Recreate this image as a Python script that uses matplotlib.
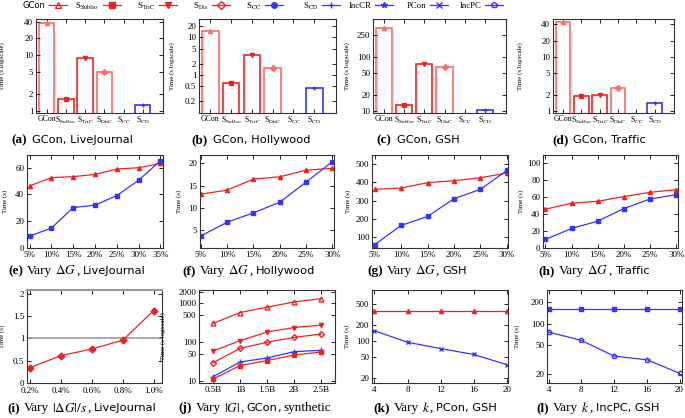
import matplotlib

matplotlib.use("Agg")
import matplotlib.pyplot as plt
from matplotlib.lines import Line2D
from matplotlib.ticker import NullLocator

plt.rcParams["font.family"] = ["Liberation Serif", "DejaVu Serif"]
plt.rcParams["mathtext.fontset"] = "stix"

RED = "#ee2222"
PINK = "#ff6a6a"
BLUE = "#3434ff"
W, H = 685, 418

# ---- data -------------------------------------------------------------
bar_cats = ["GCon", r"S$_{\mathrm{SubIso}}$", r"S$_{\mathrm{TriC}}$",
            r"S$_{\mathrm{DisC}}$", r"S$_{\mathrm{CC}}$", r"S$_{\mathrm{CD}}$"]
bar_lj = [37.8, 1.65, 8.9, 5.0, None, 1.28]
bar_hw = [14.7, 0.60, 3.33, 1.5, None, 0.46]
bar_gsh = [342, 12.7, 72, 64, None, 10.6]
bar_tr = [43.5, 1.89, 2.0, 2.66, None, 1.43]

dg_lj = [5, 10, 15, 20, 25, 30, 35]
gcon_lj = [46.4, 52.6, 53.3, 55.0, 59.0, 60.0, 63.2]
inc_lj = [8.9, 14.9, 30.2, 32.0, 39.2, 50.6, 65.2]

dg = [5, 10, 15, 20, 25, 30]
gcon_hw = [13.1, 14.0, 16.5, 17.0, 18.5, 18.9]
inc_hw = [3.7, 6.8, 8.9, 11.3, 15.8, 20.4]
gcon_gsh = [362, 369, 398, 409, 425, 451]
inc_gsh = [60, 165, 214, 311, 362, 465]
gcon_tr = [45.9, 52.9, 55.3, 60.8, 65.9, 69.0]
inc_tr = [10.2, 23.1, 31.8, 46.7, 58.0, 63.1]

rate = [0.2, 0.4, 0.6, 0.8, 1.0]
rate_time = [0.34, 0.61, 0.76, 0.955, 1.62]

size_b = [0.5, 1.0, 1.5, 2.0, 2.5]
syn_gcon = [300, 575, 790, 1080, 1315]
syn_tric = [58, 108, 180, 236, 271]
syn_disc = [29, 68, 98, 131, 160]
syn_cd = [12.6, 30.4, 38.5, 56, 61]
syn_subiso = [11, 24.5, 33, 46, 55]

ks = [4, 8, 12, 16, 20]
k_gcon = [366, 366, 366, 366, 366]
k_pcon = [155, 94.5, 72, 56, 36]
k_inccr = [161, 161, 161, 161, 161]
k_incpc = [76.5, 58.5, 35.2, 31.3, 20.3]

fig = plt.figure(figsize=(W / 100, H / 100), dpi=100)


def panel(l, r, t, b):
    ax = fig.add_axes([l / W, 1 - b / H, (r - l) / W, (b - t) / H])
    ax.tick_params(direction="in", top=True, right=True, length=3, width=0.6,
                   labelsize=6.5, pad=2)
    for s in ax.spines.values():
        s.set_linewidth(0.8)
        s.set_color("#333333")
    return ax


def ylab(ax, text, xpix, l, r):
    ax.set_ylabel(text, fontsize=5)
    ax.yaxis.set_label_coords(-(l - xpix) / (r - l), 0.5)


def log_ticks(ax, vals, labels):
    ax.set_yscale("log")
    ax.set_yticks(vals)
    ax.set_yticklabels(labels)
    ax.yaxis.set_minor_locator(NullLocator())


def caption(cx, cy, pieces):
    r = fig.canvas.get_renderer()
    objs, widths = [], []
    for s, kw, gap in pieces:
        t = fig.text(0, 1 - cy / H, s, va="center", ha="left", **kw)
        objs.append((t, gap))
        widths.append(t.get_window_extent(r).width + gap)
    x = cx - sum(widths) / 2
    for (t, gap), w in zip(objs, widths):
        t.set_x(x / W)
        x += w


bar_edges = [PINK, RED, RED, PINK, RED, BLUE]
bar_marks = ["^", "s", "v", "D", "o", "+"]


def bar_panel(l, r, vals, ylim, ticks, labels, labx):
    ax = panel(l, r, 19, 113)
    for i, v in enumerate(vals):
        if v is None:
            continue
        ax.bar(i, v, width=0.8, bottom=1e-3, facecolor="white",
               edgecolor=bar_edges[i], linewidth=1.2)
        ax.plot(i, v, marker=bar_marks[i], color=bar_edges[i], ms=3)
    log_ticks(ax, ticks, labels)
    ax.set_ylim(*ylim)
    ax.set_xlim(-0.55, 6.05)
    ax.set_xticks(range(len(bar_cats)))
    ax.set_xticklabels(bar_cats, fontsize=5.6)
    ax.tick_params(axis="x", pad=1.5)
    ylab(ax, "Time (s logscale)", labx, l, r)
    return ax


bar_panel(36, 163, bar_lj, (0.92, 44.7), [1, 2, 5, 10, 20, 40],
          ["1", "2", "5", "10", "20", "40"], 5)
bar_panel(199, 336, bar_hw, (0.098, 30.7), [0.2, 0.5, 1, 2, 5, 10, 20],
          ["0.2", "0.5", "1", "2", "5", "10", "20"], 175)
bar_panel(373, 506, bar_gsh, (9.2, 495), [10, 20, 50, 100, 250],
          ["10", "20", "50", "100", "250"], 350)
bar_panel(553, 674, bar_tr, (0.92, 50), [1, 2, 5, 10, 20, 40],
          ["1", "2", "5", "10", "20", "40"], 523)


def pct_panel(l, r, xs, red, blue, xlim, ylim, yticks, labx):
    ax = panel(l, r, 155, 248)
    ax.plot(xs, red, color=RED, lw=0.9, marker="^", ms=3)
    ax.plot(xs, blue, color=BLUE, lw=0.9, marker="s", ms=2.5)
    ax.set_xlim(*xlim)
    ax.set_ylim(*ylim)
    ax.set_xticks(xs)
    ax.set_xticklabels([f"{x}%" for x in xs])
    ax.set_yticks(yticks)
    ylab(ax, "Time (s)", labx, l, r)
    return ax


pct_panel(27, 163, dg_lj, gcon_lj, inc_lj, (4.4, 35.6), (0, 69.5),
          [0, 20, 40, 60], 8)
pct_panel(200, 334, dg, gcon_hw, inc_hw, (4.85, 30.3), (1, 21.9),
          [5, 10, 15, 20], 182)
pct_panel(372, 508, dg, gcon_gsh, inc_gsh, (4.5, 30.2), (42, 549),
          [100, 200, 300, 400, 500], 351)
pct_panel(543, 678, dg, gcon_tr, inc_tr, (4.55, 30.3), (0, 110),
          [0, 20, 40, 60, 80, 100], 524)

# (i)
ax = panel(27, 162, 290, 383)
ax.axhline(1, color="#999999", lw=1.2)
ax.plot(rate, rate_time, color=RED, lw=0.9, marker="D", ms=3.5)
ax.set_xlim(0.183, 1.054)
ax.set_ylim(0, 2.08)
ax.set_xticks(rate)
ax.set_xticklabels([f"{x:.1f}%" for x in rate])
ax.set_yticks([0, 0.5, 1, 1.5, 2])
ax.set_yticklabels(["0", "0.5", "1", "1.5", "2"])
ax.tick_params(axis="x", pad=3)
ax.spines["top"].set_color("#999999")
ax.spines["top"].set_linewidth(1.5)
ylab(ax, "Time (s)", 5, 27, 162)

# (j)
ax = panel(199, 335, 290, 383)
ax.plot(size_b, syn_gcon, color=RED, lw=0.9, marker="^", ms=3.5, mfc="none")
ax.plot(size_b, syn_tric, color=RED, lw=0.9, marker="v", ms=3)
ax.plot(size_b, syn_disc, color=RED, lw=0.9, marker="D", ms=3, mfc="none")
ax.plot(size_b, syn_cd, color=BLUE, lw=0.9, marker="+", ms=4)
ax.plot(size_b, syn_subiso, color=RED, lw=0.9, marker="s", ms=3)
log_ticks(ax, [10, 50, 100, 500, 1000, 2000],
          ["10", "50", "100", "500", "1000", "2000"])
ax.set_ylim(8.7, 2200)
ax.set_xlim(0.24, 2.76)
ax.set_xticks(size_b)
ax.set_xticklabels(["0.5B", "1B", "1.5B", "2B", "2.5B"])
ylab(ax, "Time (s logscale)", 166, 199, 335)

# (k)
ax = panel(372, 508, 290, 383)
ax.plot(ks, k_gcon, color=RED, lw=0.9, marker="^", ms=3)
ax.plot(ks, k_pcon, color=BLUE, lw=0.9, marker="x", ms=3.5)
log_ticks(ax, [20, 50, 100, 200, 500], ["20", "50", "100", "200", "500"])
ax.set_ylim(16.4, 895)
ax.set_xlim(3.7, 20.15)
ax.set_xticks(ks)
ylab(ax, "Time (s)", 350, 372, 508)

# (l)
ax = panel(547, 682, 290, 383)
ax.plot(ks, k_inccr, color=BLUE, lw=0.9, marker="s", ms=2.5)
ax.plot(ks, k_incpc, color=BLUE, lw=0.9, marker="p", ms=3.5, mfc="none")
log_ticks(ax, [20, 50, 100, 200], ["20", "50", "100", "200"])
ax.set_ylim(14.8, 297)
ax.set_xlim(3.8, 20.3)
ax.set_xticks(ks)
ylab(ax, "Time (s)", 520, 547, 682)

# ---- top legend -------------------------------------------------------
leg_labels = ["GCon", r"S$_{\mathrm{SubIso}}$", r"S$_{\mathrm{TriC}}$",
              r"S$_{\mathrm{Dis}}$", r"S$_{\mathrm{CC}}$", r"S$_{\mathrm{CD}}$",
              "IncCR", "PCon", "IncPC"]
leg_style = [(RED, "^", "none"), (RED, "s", RED), (RED, "v", RED),
             (RED, "D", "none"), (BLUE, "o", BLUE), (BLUE, "+", BLUE),
             (BLUE, "*", BLUE), (BLUE, "x", BLUE), (BLUE, "p", "none")]
leg_ends = [67, 121, 177, 230, 283, 340, 393, 448, 503]
for lab, (c, m, fc), xe in zip(leg_labels, leg_style, leg_ends):
    h = Line2D([], [], color=c, lw=0.9, marker=m, ms=4, mfc=fc)
    lg = fig.legend([h], [lab], loc="center right", bbox_to_anchor=(xe / W, 1 - 6 / H),
                    frameon=False, markerfirst=False, handlelength=2.05,
                    handletextpad=0.45, borderpad=0, borderaxespad=0, fontsize=6.3)
    if lab == "GCon":
        lg.get_texts()[0].set_family("DejaVu Sans")
        lg.get_texts()[0].set_fontsize(6)

# ---- captions ---------------------------------------------------------
B = dict(fontsize=9.5, fontweight="bold")
S = dict(fontsize=8.2, family="DejaVu Sans")
R = dict(fontsize=9.5)
caption(72, 140, [("(a)", B, 5), ("GCon, LiveJournal", S, 0)])
caption(251, 140, [("(b)", B, 5), ("GCon, Hollywood", S, 0)])
caption(418, 140, [("(c)", B, 5), ("GCon, GSH", S, 0)])
caption(599, 140, [("(d)", B, 5), ("GCon, Traffic", S, 0)])
caption(77, 271, [("(e)", B, 4), ("Vary", R, 3), (r"$\Delta G$", R, 0), (",", R, 3), ("LiveJournal", S, 0)])
caption(249, 271, [("(f)", B, 4), ("Vary", R, 3), (r"$\Delta G$", R, 0), (",", R, 3), ("Hollywood", S, 0)])
caption(417, 271, [("(g)", B, 4), ("Vary", R, 3), (r"$\Delta G$", R, 0), (",", R, 3), ("GSH", S, 0)])
caption(594, 271, [("(h)", B, 4), ("Vary", R, 3), (r"$\Delta G$", R, 0), (",", R, 3), ("Traffic", S, 0)])
caption(82, 408, [("(i)", B, 4), ("Vary", R, 3), (r"$|\Delta G|/s$", R, 0), (",", R, 3), ("LiveJournal", S, 0)])
caption(255, 408, [("(j)", B, 4), ("Vary", R, 3), (r"$|G|$", R, 0), (",", R, 3), ("GCon", S, 0), (",", S, 3), ("synthetic", R, 0)])
caption(435, 408, [("(k)", B, 4), ("Vary", R, 3), (r"$k$", R, 0), (",", R, 3), ("PCon, GSH", S, 0)])
caption(598, 408, [("(l)", B, 4), ("Vary", R, 3), (r"$k$", R, 0), (",", R, 3), ("IncPC, GSH", S, 0)])

fig.savefig("out.png", dpi=100)
